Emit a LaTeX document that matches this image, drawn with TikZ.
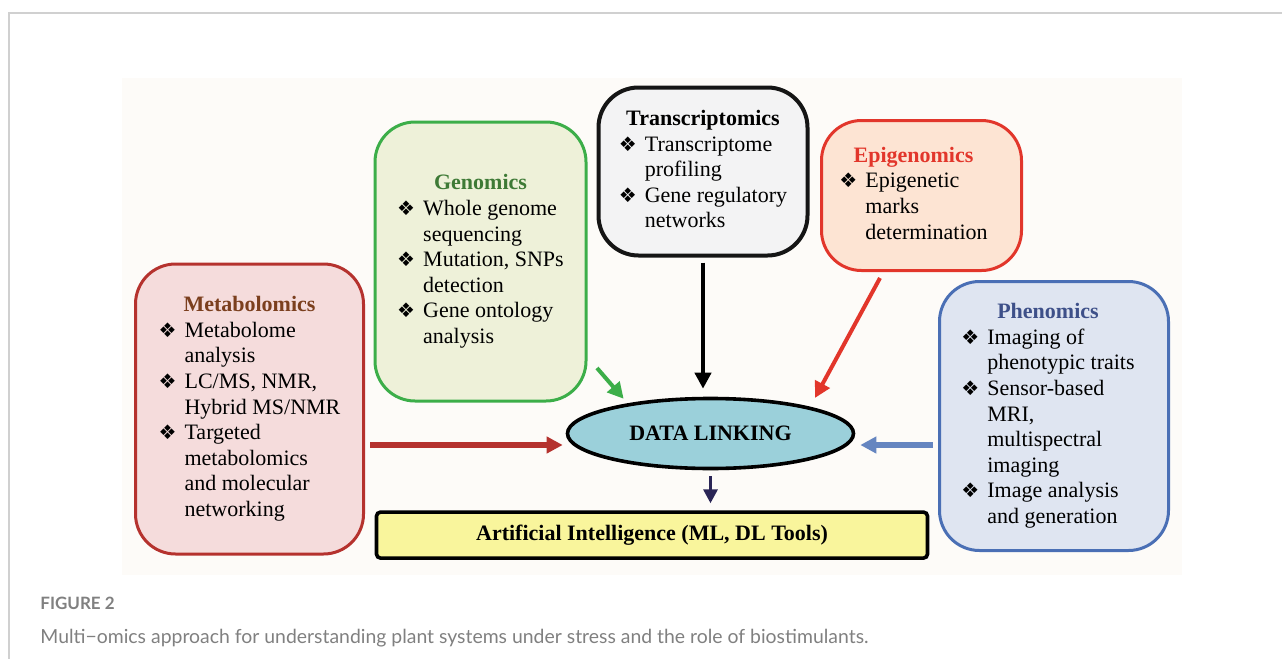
\documentclass[tikz,border=0pt]{standalone}
\usepackage{fontspec}
\setmainfont{Liberation Serif}
\newfontfamily\symfont{DejaVu Sans}
\newfontfamily\capfont{Lato}
\usepackage{tikz}
\usetikzlibrary{positioning}
\usetikzlibrary{shapes.geometric, arrows.meta}

\definecolor{metline}{HTML}{B5322E}
\definecolor{metfill}{HTML}{F5DCDC}
\definecolor{mettitle}{HTML}{7B3F1E}
\definecolor{genline}{HTML}{3CAE49}
\definecolor{genfill}{HTML}{EEF1D9}
\definecolor{gentitle}{HTML}{3E7A36}
\definecolor{transline}{HTML}{151515}
\definecolor{transfill}{HTML}{F3F3F4}
\definecolor{epiline}{HTML}{E2362B}
\definecolor{epifill}{HTML}{FDE4D3}
\definecolor{phenline}{HTML}{4A6FB5}
\definecolor{phenfill}{HTML}{DFE5F1}
\definecolor{phentitle}{HTML}{3E5089}
\definecolor{linkfill}{HTML}{9BD0DA}
\definecolor{aifill}{HTML}{F9F59C}
\definecolor{navy}{HTML}{2A2556}
\definecolor{panelbg}{HTML}{FDFBF8}
\definecolor{framegray}{HTML}{D0D0D0}
\definecolor{capgray}{HTML}{808080}

\newcommand{\omicitem}{\makebox[13pt][l]{\symfont\fontsize{10}{10}\selectfont ❖}}
\newcommand{\omicgap}{\hspace*{13pt}}
\newcommand{\omichead}[2]{\multicolumn{1}{@{}c@{}}{\textcolor{#1}{\textbf{#2}}}}

\tikzstyle{omic} = [rectangle, rounded corners=20pt, line width=1.5pt,
                    inner sep=0pt, font=\fontsize{11}{12.8}\selectfont]
\tikzstyle{hub} = [ellipse, draw=black, line width=1.8pt, fill=linkfill,
                   inner sep=0pt, font=\fontsize{11}{12.8}\selectfont\bfseries]
\tikzstyle{aibox} = [rectangle, rounded corners=2pt, draw=black, line width=1.8pt,
                     fill=aifill, font=\fontsize{11}{12.8}\selectfont\bfseries]
\tikzstyle{arrow} = [line width=2.2pt, ->, >={Triangle[length=8pt,width=8pt]}]

\begin{document}
\begin{tikzpicture}[x=0.5pt, y=-0.5pt]
\useasboundingbox (0,0) rectangle (1282,659);
\draw [framegray, line width=1pt] (1282,13) -- (9,13) -- (9,659);
\fill [panelbg] (122,78) rectangle (1182,575);

\node (box_met) [omic, draw=metline, fill=metfill, minimum width=114pt, minimum height=145pt] at (249.5,409) {%
\begin{tabular}{@{}l@{}}
\omichead{mettitle}{Metabolomics}\\
\omicitem Metabolome\\
\omicgap analysis\\
\omicitem LC/MS, NMR,\\
\omicgap Hybrid MS/NMR\\
\omicitem Targeted\\
\omicgap metabolomics\\
\omicgap and molecular\\
\omicgap networking
\end{tabular}};
\node (box_gen) [omic, draw=genline, fill=genfill, minimum width=105.5pt, minimum height=139.5pt] at (480.5,261.5) {%
\begin{tabular}{@{}l@{}}
\omichead{gentitle}{Genomics}\\
\omicitem Whole genome\\
\omicgap sequencing\\
\omicitem Mutation, SNPs\\
\omicgap detection\\
\omicitem Gene ontology\\
\omicgap analysis
\end{tabular}};
\node (box_trans) [omic, draw=transline, line width=2pt, fill=transfill, minimum width=104.5pt, minimum height=84pt] at (703,171.5) {%
\begin{tabular}{@{}l@{}}
\omichead{black}{Transcriptomics}\\
\omicitem Transcriptome\\
\omicgap profiling\\
\omicitem Gene regulatory\\
\omicgap networks
\end{tabular}};
\node (box_epi) [omic, draw=epiline, fill=epifill, minimum width=100pt, minimum height=75pt] at (921.5,195.5) {%
\begin{tabular}{@{}l@{}}
\omichead{epiline}{Epigenomics}\\
\omicitem Epigenetic\\
\omicgap marks\\
\omicgap determination
\end{tabular}\rule{8pt}{0pt}};
\node (box_phen) [omic, draw=phenline, fill=phenfill, minimum width=114.5pt, minimum height=134.5pt] at (1054,416) {%
\begin{tabular}{@{}l@{}}
\omichead{phentitle}{Phenomics}\\
\omicitem Imaging of\\
\omicgap phenotypic traits\\
\omicitem Sensor-based\\
\omicgap MRI,\\
\omicgap multispectral\\
\omicgap imaging\\
\omicitem Image analysis\\
\omicgap and generation
\end{tabular}\rule{6pt}{0pt}};

\node (link) [hub, minimum width=143pt, minimum height=35pt] at (710.5,433.5) {DATA LINKING};
\node (ai) [aibox, minimum width=275.5pt, minimum height=23pt, below=20pt of link, xshift=-29.25pt] {Artificial Intelligence (ML, DL Tools)};

\coordinate (gen_out) at (597,368);
\coordinate (epi_out) at (880,278);
\coordinate (met_out) at (370,445);
\coordinate (phen_out) at (933,445);

\draw [arrow, shorten <=2.5pt, shorten >=4pt] (box_trans.south) -- (box_trans.south |- link.north);
\draw [arrow, genline, line width=2pt, shorten >=3pt] (gen_out) -- (link.160);
\draw [arrow, epiline, line width=2pt, shorten >=5pt] (epi_out) -- (link.15);
\draw [arrow, metline, line width=2.6pt, shorten >=1.5pt] (met_out) -- (met_out -| link.west);
\draw [arrow, phenline!85, line width=2.6pt, shorten >=2.5pt] (phen_out) -- (phen_out -| link.east);
\draw [arrow, navy, line width=1.6pt, >={Triangle[length=7pt,width=7pt]}, shorten <=3pt, shorten >=3.5pt] (link.south) -- (link.south |- ai.north);

\node (fig_no) [anchor=base west, inner sep=0pt, text=capgray, font=\capfont\bfseries\fontsize{8.5}{10}\selectfont] at (40,609) {FIGURE 2};
\node (fig_text) [anchor=base west, inner sep=0pt, text=capgray, font=\capfont\fontsize{9.7}{11}\selectfont] at (40,643) {Multi−omics approach for understanding plant systems under stress and the role of biostimulants.};
\end{tikzpicture}
\end{document}
